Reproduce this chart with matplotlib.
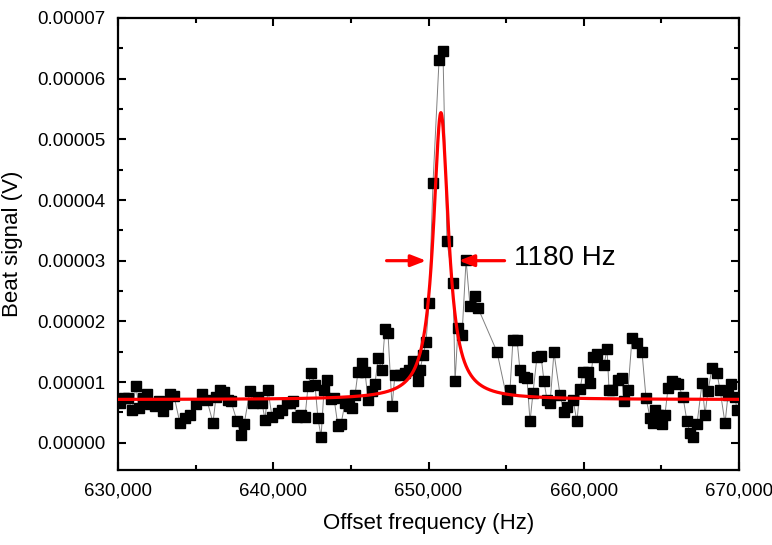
import matplotlib
matplotlib.use("Agg")
import matplotlib.pyplot as plt
import numpy as np
from matplotlib.ticker import FuncFormatter, MultipleLocator

plt.rcParams['font.family'] = ['Liberation Sans', 'DejaVu Sans']

# measured beat signal: offset frequency (Hz) and amplitude (microvolts)
freq_hz = [
    630130, 630390, 630640, 630900, 631160, 631350, 631610, 631870, 632060, 632380,
    632640, 632900, 633160, 633350, 633610, 633990, 634320, 634640, 635020, 635410,
    635730, 636120, 636310, 636570, 636830, 637090, 637280, 637660, 637920, 638120,
    638500, 638700, 639020, 639280, 639470, 639660, 639920, 640310, 640560, 640890,
    641080, 641270, 641530, 641790, 642050, 642240, 642430, 642690, 642880, 643080,
    643270, 643460, 643720, 643910, 644170, 644360, 644620, 644880, 645070, 645270,
    645460, 645720, 645910, 646100, 646360, 646550, 646750, 647000, 647200, 647390,
    647650, 647840, 648160, 648490, 648740, 649000, 649320, 649450, 649650, 649840,
    650030, 650290, 650680, 650930, 651190, 651580, 651710, 651900, 652160, 652420,
    652670, 652990, 653190, 654410, 655060, 655250, 655440, 655700, 655890, 656150,
    656340, 656540, 656730, 656990, 657250, 657440, 657630, 657830, 658080, 658470,
    658730, 658920, 659310, 659560, 659760, 659950, 660270, 660400, 660600, 660850,
    661300, 661500, 661630, 661820, 662210, 662460, 662590, 662850, 663110, 663430,
    663750, 664010, 664270, 664460, 664590, 664780, 665040, 665230, 665430, 665680,
    665880, 666070, 666390, 666650, 666840, 667040, 667290, 667620, 667810, 668000,
    668260, 668580, 668780, 669100, 669290, 669490, 669740, 669870,
]
signal_uv = [
    6.6, 7.4, 7.4, 5.4, 9.3, 5.7, 7.3, 8.0, 6.3, 6.0,
    6.8, 5.2, 6.4, 8.0, 7.7, 3.2, 4.0, 4.5, 6.3, 8.0,
    7.0, 3.3, 7.5, 8.7, 8.3, 7.0, 6.8, 3.6, 1.3, 3.0,
    8.6, 6.5, 7.5, 6.5, 3.8, 8.7, 4.3, 4.9, 5.4, 6.5,
    6.5, 6.8, 4.3, 4.6, 4.3, 9.3, 11.5, 9.5, 4.0, 1.0,
    8.7, 10.4, 7.2, 7.4, 2.7, 3.0, 6.5, 6.0, 5.7, 7.9,
    11.7, 13.1, 11.7, 7.1, 8.5, 9.6, 13.9, 12.0, 18.8, 18.1,
    6.0, 11.2, 11.2, 11.5, 12.0, 13.4, 10.1, 12.0, 14.4, 16.6,
    23.0, 42.8, 63.1, 64.6, 33.2, 26.3, 10.1, 18.9, 17.8, 30.1,
    22.6, 24.1, 22.2, 15.0, 7.2, 8.7, 17.0, 17.0, 12.0, 10.8,
    10.7, 3.5, 8.2, 14.2, 14.3, 10.1, 7.1, 6.5, 14.9, 7.9,
    5.0, 5.9, 7.1, 3.5, 8.8, 11.6, 11.6, 9.8, 14.1, 14.7,
    12.8, 15.4, 8.7, 8.7, 10.4, 10.7, 6.8, 8.7, 17.2, 16.4,
    15.0, 7.4, 4.1, 3.2, 5.4, 4.5, 3.0, 4.6, 9.0, 10.1,
    9.8, 9.6, 7.6, 3.5, 1.6, 1.0, 3.0, 9.8, 4.6, 8.5,
    12.3, 11.5, 8.7, 3.2, 7.8, 9.6, 7.6, 5.4,
]

# Lorentzian fit parameters
fit_offset_uv = 7.1
fit_height_uv = 47.3
fit_center_hz = 650800
fit_fwhm_hz = 1180

freq = np.array(freq_hz, dtype=float)
signal = np.array(signal_uv) * 1e-6

fit_x = np.linspace(630000, 670000, 2001)
hw = fit_fwhm_hz / 2.0
fit_y = (fit_offset_uv + fit_height_uv * hw**2 / ((fit_x - fit_center_hz)**2 + hw**2)) * 1e-6

fig = plt.figure(figsize=(7.72, 5.45), dpi=100)
ax = fig.add_axes([118 / 772, 1 - 470 / 545, (739 - 118) / 772, (470 - 18) / 545])

ax.plot(freq, signal, color='#808080', lw=0.7, zorder=2)
ax.plot(freq, signal, ls='none', marker='s', ms=7, color='black', zorder=3)
ax.plot(fit_x, fit_y, color='red', lw=2.3, zorder=4)

# linewidth annotation
arrow_y = 0.00003
arrow_style = dict(arrowstyle='-|>,head_length=0.9,head_width=0.35', color='red',
                   lw=2.3, shrinkA=0, shrinkB=0)
ax.annotate('', xy=(649850, arrow_y), xytext=(647300, arrow_y), arrowprops=arrow_style)
ax.annotate('', xy=(651950, arrow_y), xytext=(654900, arrow_y), arrowprops=arrow_style)
ax.text(655500, arrow_y + 0.0000005, '1180 Hz', fontsize=20, va='center', ha='left')

ax.set_xlim(630000, 670000)
ax.set_ylim(-0.0000045, 0.00007)
ax.xaxis.set_major_locator(MultipleLocator(10000))
ax.xaxis.set_minor_locator(MultipleLocator(5000))
ax.yaxis.set_major_locator(MultipleLocator(0.00001))
ax.yaxis.set_minor_locator(MultipleLocator(0.000005))
ax.xaxis.set_major_formatter(FuncFormatter(lambda v, p: f'{v:,.0f}'))
ax.yaxis.set_major_formatter(FuncFormatter(lambda v, p: f'{v:.5f}'))

ax.tick_params(which='both', direction='in', top=True, right=True, width=1.5)
ax.tick_params(which='major', length=6, labelsize=13.5, pad=9)
ax.tick_params(which='minor', length=3.5)
for s in ax.spines.values():
    s.set_linewidth(1.6)

ax.set_xlabel('Offset frequency (Hz)', fontsize=16, labelpad=10)
ax.set_ylabel('Beat signal (V)', fontsize=16, labelpad=10)

fig.savefig('out.png', dpi=100)
